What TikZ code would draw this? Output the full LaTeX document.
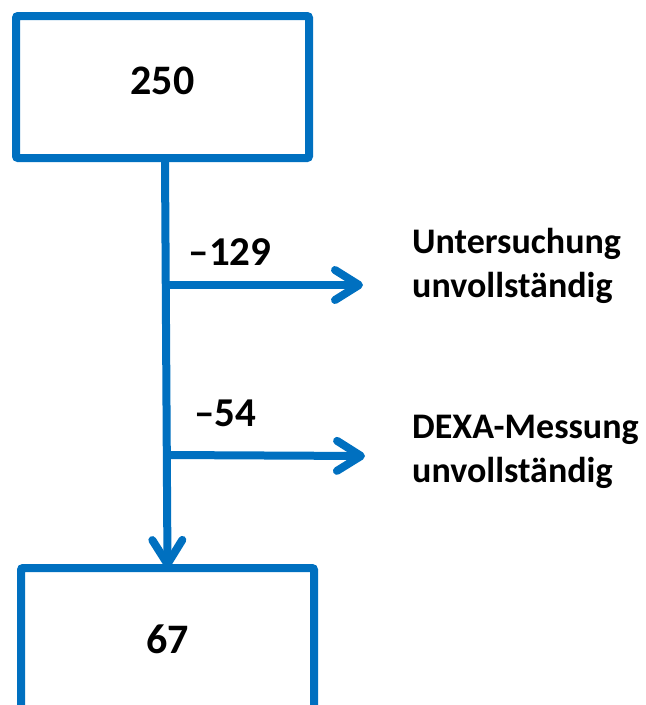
\documentclass[tikz,border=0pt]{standalone}
\usepackage{fontspec}
\setmainfont{Carlito}
\usepackage{xcolor}
\usepackage{tikz}
\usetikzlibrary{positioning, arrows.meta}

\definecolor{flowblue}{HTML}{0070C0}

\begin{document}
\begin{tikzpicture}[x=1pt, y=-1pt,
    countbox/.style={draw=flowblue, line width=8pt, rounded corners=2pt,
      minimum width=293pt, minimum height=142pt, inner sep=0pt,
      font=\fontsize{42}{50}\selectfont\bfseries},
    flowline/.style={draw=flowblue, line width=8pt,
      -{Straight Barb[length=24pt, width=30pt, round]}},
    dropnum/.style={font=\fontsize{41}{48}\selectfont\bfseries, inner sep=0pt},
    reason/.style={font=\fontsize{36}{44}\selectfont\bfseries, align=left,
      inner sep=0pt, anchor=base west}]
  \useasboundingbox (0,0) rectangle (646,705);
  \clip (0,0) rectangle (646,705);

  % ── counts ──
  \node[countbox, text depth=12pt] (n250) at (162.5,87) {250};
  \node[countbox] (n67) at (167.5,639) {67};

  % ── main flow ──
  \coordinate (top) at (165,162);
  \coordinate (split1) at (166,285);
  \coordinate (split2) at (166,455);
  \draw[flowline] (top) -- ([yshift=-4pt]n67.north);

  % ── exclusions ──
  \coordinate (out1) at (363,285);
  \coordinate (out2) at (365,456);
  \draw[flowline] (split1) -- (out1);
  \draw[flowline] (split2) -- (out2);

  \node[dropnum] (d129) at (230,252) {–129};
  \node[dropnum] (d54) at (225.5,413.5) {–54};

  \node[reason] (r1) at (412,297) {Untersuchung\\unvollständig};
  \node[reason] (r2) at (412,482) {DEXA-Messung\\unvollständig};
\end{tikzpicture}
\end{document}
